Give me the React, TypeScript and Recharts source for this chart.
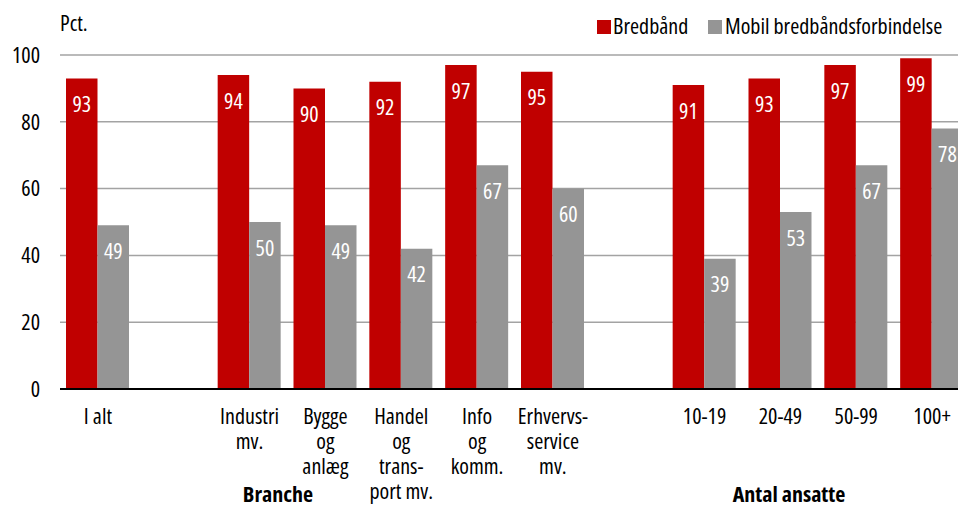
import { BarChart, Bar, XAxis, YAxis, CartesianGrid, LabelList } from 'recharts'

const categories = [
  'I alt',
  '',
  'Industri\nmv.',
  'Bygge\nog\nanlæg',
  'Handel\nog\ntrans-\nport mv.',
  'Info\nog\nkomm.',
  'Erhvervs-\nservice\nmv.',
  ' ',
  '10-19',
  '20-49',
  '50-99',
  '100+',
]
const bredbaand = [93, null, 94, 90, 92, 97, 95, null, 91, 93, 97, 99]
const mobil = [49, null, 50, 49, 42, 67, 60, null, 39, 53, 67, 78]
const yTicks = [0, 20, 40, 60, 80, 100]
const seriesNames = ['Bredbånd', 'Mobil bredbåndsforbindelse']
const groupLabels = ['Branche', 'Antal ansatte']

const RED = '#C00000'
const GREY = '#959595'
const FONT = "'Open Sans', sans-serif"
const STRETCH = 'condensed'
const FS = 22

const data = categories.map((name, i) => ({ name, bred: bredbaand[i], mobil: mobil[i] }))

function CategoryTick(props: any) {
  const { x, y, payload } = props
  const lines = String(payload.value).split('\n')
  return (
    <text x={x} y={y} textAnchor="middle" fill="#000" fontSize={FS} fontFamily={FONT} style={{ fontStretch: STRETCH }}>
      {lines.map((l, i) => (
        <tspan key={i} x={x} dy={i === 0 ? 35 : 25}>
          {l}
        </tspan>
      ))}
    </text>
  )
}

export default function App() {
  return (
    <div style={{ position: 'absolute', left: 0, top: 0, width: 958, height: 506, overflow: 'hidden', background: '#fff', fontFamily: FONT, fontStretch: STRETCH }}>
      <BarChart width={984} height={506} data={data} margin={{ top: 55, right: 14, bottom: 0, left: 0 }} barSize={31.5} barGap={0}>
        <CartesianGrid horizontal vertical={false} stroke="#a3a3a3" strokeWidth={1.5} />
        <XAxis
          dataKey="name"
          height={117}
          tickLine={false}
          tickSize={0}
          tickMargin={0}
          axisLine={{ stroke: '#000', strokeWidth: 2 }}
          tick={<CategoryTick />}
          interval={0}
        />
        <YAxis
          width={60}
          domain={[0, 100]}
          ticks={yTicks}
          axisLine={false}
          tickLine={false}
          tickSize={0}
          tickMargin={20}
          tick={{ fill: '#000', fontSize: FS, fontFamily: FONT }}
        />
        <Bar dataKey="bred" fill={RED} isAnimationActive={false}>
          <LabelList dataKey="bred" position="insideTop" offset={18} fill="#fff" fontSize={FS} fontFamily={FONT} />
        </Bar>
        <Bar dataKey="mobil" fill={GREY} isAnimationActive={false}>
          <LabelList dataKey="mobil" position="insideTop" offset={18} fill="#fff" fontSize={FS} fontFamily={FONT} />
        </Bar>
      </BarChart>
      <svg width={958} height={506} style={{ position: 'absolute', left: 0, top: 0, pointerEvents: 'none' }} fontFamily={FONT}>
        <text x={60} y={31} fontSize={FS} fill="#000">Pct.</text>
        <rect x={597} y={20} width={14} height={14} fill={RED} />
        <text x={613} y={34} fontSize={FS} fill="#000">{seriesNames[0]}</text>
        <rect x={708} y={20} width={14} height={14} fill={GREY} />
        <text x={725} y={34} fontSize={FS} fill="#000">{seriesNames[1]}</text>
        <text x={278} y={502} fontSize={FS} fontWeight="bold" textAnchor="middle" fill="#000">{groupLabels[0]}</text>
        <text x={789} y={502} fontSize={FS} fontWeight="bold" textAnchor="middle" fill="#000">{groupLabels[1]}</text>
      </svg>
    </div>
  )
}
